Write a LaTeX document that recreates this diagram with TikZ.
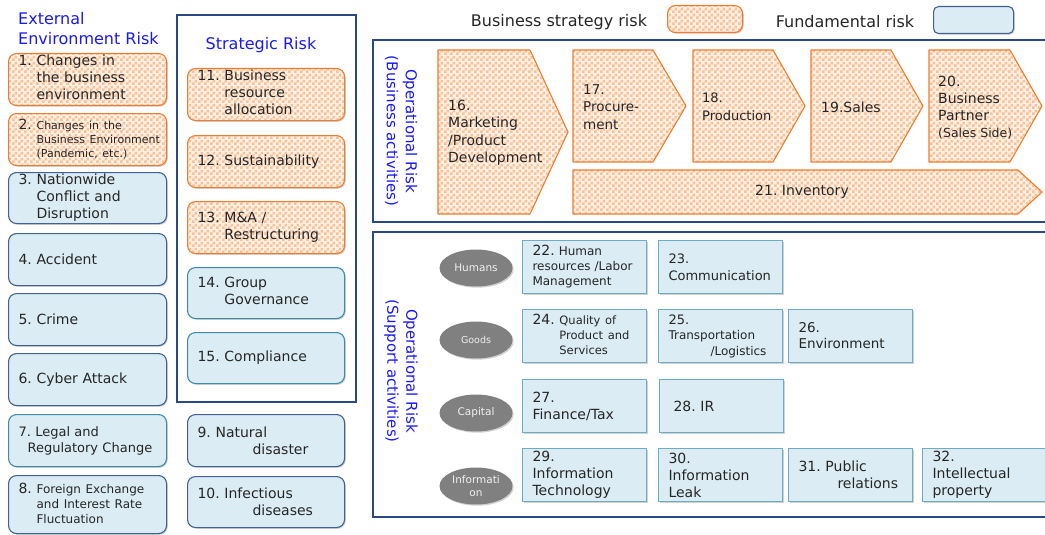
\documentclass[tikz,border=0pt]{standalone}
\usepackage{fontspec}
\setmainfont{DejaVu Sans}
\frenchspacing
\usetikzlibrary{patterns,shadows,shapes.geometric}
\pgfdeclarepatternformonly{chk}{\pgfpointorigin}{\pgfqpoint{6pt}{6pt}}{\pgfqpoint{6pt}{6pt}}{%
  \pgfpathrectangle{\pgfpointorigin}{\pgfqpoint{3pt}{3pt}}%
  \pgfpathrectangle{\pgfqpoint{3pt}{3pt}}{\pgfqpoint{3pt}{3pt}}%
  \pgfusepath{fill}}
\definecolor{obord}{RGB}{237,125,49}
\definecolor{obase}{RGB}{255,240,228}
\definecolor{ochk}{RGB}{248,194,152}
\definecolor{bfill}{RGB}{219,236,244}
\definecolor{bdark}{RGB}{66,98,145}
\definecolor{bteal}{RGB}{62,140,168}
\definecolor{blight}{RGB}{110,172,198}
\definecolor{frm}{RGB}{42,72,132}
\definecolor{lbl}{RGB}{25,25,245}
\definecolor{txt}{RGB}{38,38,38}
\definecolor{ellc}{RGB}{128,128,128}
\newcommand\fs[2]{\fontsize{#1}{#2}\selectfont}
\newcommand\hng[2]{\begin{tabular}[t]{@{}l@{\ }l@{}}#1&\begin{tabular}[t]{@{}l@{}}#2\end{tabular}\end{tabular}}
\newcommand\hngs[3]{\begin{tabular}[t]{@{}l@{\ }l@{}}#1&#2\begin{tabular}[t]{@{}l@{}}#3\end{tabular}\end{tabular}}
\tikzset{
  sz/.code 2 args={\pgfmathsetmacro\mytw{#1-20}\edef\mytmp{\noexpand\tikzset{minimum width=#1pt,minimum height=#2pt,text width=\mytw pt}}\mytmp},
  shd/.style={drop shadow={shadow xshift=1.2pt,shadow yshift=-1.2pt,opacity=0.3,fill=black!60}},
  base/.style={anchor=north west,inner xsep=10pt,inner ysep=0pt,align=left,text=txt,font=\fs{14}{17}},
  ob/.style={base,rounded corners=8pt,draw=obord,line width=1.1pt,shd,preaction={fill=obase},pattern=chk,pattern color=ochk},
  rbd/.style={base,rounded corners=8pt,draw=bdark,line width=1.1pt,shd,fill=bfill},
  rbt/.style={base,rounded corners=8pt,draw=bteal,line width=1.1pt,shd,fill=bfill},
  sb/.style={base,draw=blight,line width=1pt,shd,fill=bfill},
  arr/.style={draw=obord,line width=1.1pt,line join=round,preaction={fill=obase},pattern=chk,pattern color=ochk},
  atext/.style={anchor=west,inner sep=0pt,align=left,text=txt,font=\fs{14}{17.5}},
  frame/.style={draw=frm,line width=2pt},
  vlab/.style={rotate=-90,align=center,text=lbl,inner sep=0pt,font=\fs{15}{19}},
  ttl/.style={text=lbl,inner sep=0pt,align=left,font=\fs{16}{20}},
  cat/.style={ellipse,fill=ellc,shd,minimum width=73pt,minimum height=37pt,inner sep=0pt,align=center,text=white!94!black,font=\fs{10.5}{13}}
}
\begin{document}
\begin{tikzpicture}[x=1pt,y=-1pt]
\useasboundingbox (0,0) rectangle (1045,535);
\clip (0,0) rectangle (1045,535);
% titles and legend
\node[ttl,anchor=west] (tExt) at (18,29) {External\\Environment Risk};
\node[ttl] (tStr) at (261,45) {Strategic Risk};
\node[text=txt,font=\fs{16}{19},inner sep=0pt] (lg1) at (559,22) {Business strategy risk};
\node[ob,sz={75}{27}] (lgo) at (667,5) {};
\node[text=txt,font=\fs{16}{19},inner sep=0pt] (lg2) at (845,22) {Fundamental risk};
\node[rbd,rounded corners=5pt,sz={80}{27}] (lgb) at (933,6) {};
% frames
\draw[frame] (177,15) rectangle (356,402);
\draw[frame] (373,40) rectangle (1052,222);
\draw[frame] (373,232) rectangle (1052,517);
% left column
\node[ob,sz={158}{52}] (b1) at (8,53) {\hng{1.}{Changes in\\the business\\environment}};
\node[ob,sz={158}{52}] (b2) at (8,113) {\hngs{2.}{\fs{11}{14}}{Changes in the\\Business Environment\\(Pandemic, etc.)}};
\node[rbd,sz={158}{51}] (b3) at (8,172) {\hng{3.}{Nationwide\\Conflict and\\Disruption}};
\node[rbd,sz={158}{52}] (b4) at (8,233) {4. Accident};
\node[rbd,sz={158}{52}] (b5) at (8,293) {5. Crime};
\node[rbd,sz={158}{52}] (b6) at (8,353) {6. Cyber Attack};
\node[rbt,sz={158}{52},font=\fs{13}{16}] (b7) at (8,414) {7. Legal and\\\hspace*{9pt}Regulatory Change};
\node[rbd,sz={158}{58}] (b8) at (8,475) {\hngs{8.}{\fs{12}{15}}{Foreign Exchange\\and Interest Rate\\Fluctuation}};
% strategic column
\node[ob,sz={157}{52}] (s11) at (187,68) {\hng{11.}{Business\\resource\\allocation}};
\node[ob,sz={157}{52}] (s12) at (187,135) {12. Sustainability};
\node[ob,sz={157}{52}] (s13) at (187,201) {\hng{13.}{M\&A /\\Restructuring}};
\node[rbt,sz={157}{51}] (s14) at (187,267) {\hng{14.}{Group\\Governance}};
\node[rbt,sz={157}{51}] (s15) at (187,332) {15. Compliance};
\node[rbd,sz={157}{52}] (s9) at (187,414) {9. Natural\\\hspace*{55pt}disaster};
\node[rbd,sz={157}{51}] (s10) at (187,476) {10. Infectious\\\hspace*{55pt}diseases};
% business activities
\node[vlab] (vb) at (401,131) {Operational Risk\\(Business activities)};
\path[arr] (438,50) -- (530,50) -- (568,132) -- (530,214) -- (438,214) -- cycle;
\path[arr] (573,50) -- (653,50) -- (686,106) -- (653,162) -- (573,162) -- cycle;
\path[arr] (693,50) -- (773,50) -- (805,106) -- (773,162) -- (693,162) -- cycle;
\path[arr] (811,50) -- (891,50) -- (923,106) -- (891,162) -- (811,162) -- cycle;
\path[arr] (929,50) -- (1010,50) -- (1042,106) -- (1010,162) -- (929,162) -- cycle;
\path[arr] (573,170) -- (1018,170) -- (1042,192) -- (1018,214) -- (573,214) -- cycle;
\node[atext] (a16) at (448,133) {16.\\Marketing\\/Product\\Development};
\node[atext,font=\fs{13.5}{17.5}] (a17) at (583,107) {17.\\Procure-\\ment};
\node[atext,font=\fs{13}{17.5}] (a18) at (702,107) {18.\\Production};
\node[atext] (a19) at (821,107) {19.Sales};
\node[atext,font=\fs{14}{17}] (a20) at (938,108) {20.\\Business\\Partner\\{\fs{12.5}{17}(Sales Side)}};
\node[atext,anchor=center] (a21) at (802,192) {21. Inventory};
% support activities
\node[vlab] (vs) at (401,371) {Operational Risk\\(Support activities)};
\node[cat] (cH) at (476,268) {Humans};
\node[cat,font=\fs{9.5}{12}] (cG) at (476,340) {Goods};
\node[cat] (cC) at (476,413) {Capital};
\node[cat] (cI) at (476,486) {Informati\\on};
\node[sb,sz={124}{53},font=\fs{12}{15}] (o22) at (522,240) {{\fs{14}{15}22.} Human\\resources /Labor\\Management};
\node[sb,sz={124}{53},font=\fs{13}{17}] (o23) at (658,240) {23.\\Communication};
\node[sb,sz={124}{53}] (o24) at (522,309) {\hngs{{\fs{14}{15}24.}}{\fs{11.5}{15}}{Quality of\\Product and\\Services}};
\node[sb,sz={124}{53},font=\fs{12}{15.5}] (o25) at (658,309) {{\fs{13}{15.5}25.}\\Transportation\\\hspace*{42pt}/Logistics};
\node[sb,sz={124}{53},font=\fs{13.5}{16}] (o26) at (788,309) {26.\\Environment};
\node[sb,sz={124}{53}] (o27) at (522,379) {27.\\Finance/Tax};
\node[sb,sz={124}{53}] (o28) at (659,379) {\hspace*{4pt}28. IR};
\node[sb,sz={124}{53}] (o29) at (522,448) {29.\\Information\\Technology};
\node[sb,sz={124}{53}] (o30) at (658,448) {30.\\Information\\Leak};
\node[sb,sz={124}{53}] (o31) at (788,448) {31. Public\\\hspace*{39pt}relations};
\node[sb,sz={123}{53}] (o32) at (922,448) {32.\\Intellectual\\property};
\end{tikzpicture}
\end{document}
